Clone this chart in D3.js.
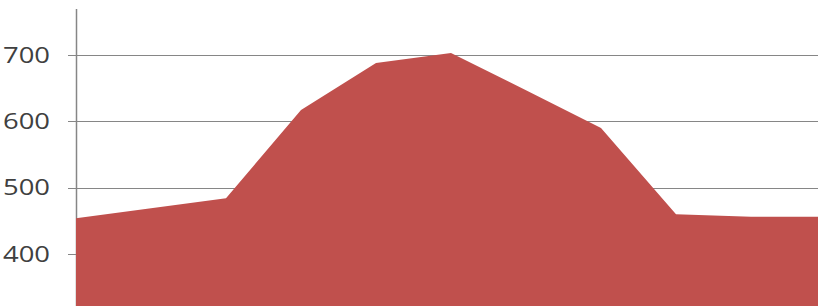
<!DOCTYPE html>
<html lang="en">
<head>
    <meta charset="UTF-8">
    <title>Area chart</title>
    <script src='https://d3js.org/d3.v7.min.js' type='text/javascript'></script>
    <style>
        body { margin: 0; background: #fff; }
    </style>
</head>
<body>
<script>
    var width = 818, height = 306;
    // data
    var categories = d3.range(11);
    var values = [454, 469, 484, 617, 688, 703, 647, 590, 460, 456, 456];
    var tickValues = [400, 500, 600, 700];

    var svg = d3.select('body').append('svg').attr('width', width).attr('height', height);

    var x = d3.scaleLinear().domain([0, 10]).range([76, 826]);
    var y = d3.scaleLinear().domain([400, 700]).range([254, 55]);

    // gridlines and ticks (behind the area)
    svg.append('g').selectAll('line')
        .data(tickValues)
        .join('line')
        .attr('x1', 68).attr('x2', function (d) { return d > 400 ? width : 76; })
        .attr('y1', function (d) { return Math.round(y(d)) + 0.5; })
        .attr('y2', function (d) { return Math.round(y(d)) + 0.5; })
        .attr('stroke', '#868686')
        .attr('stroke-width', 1);

    // y axis line
    svg.append('line')
        .attr('x1', 76.5).attr('x2', 76.5)
        .attr('y1', 9).attr('y2', height)
        .attr('stroke', '#868686')
        .attr('stroke-width', 1.5);

    // filled area down below the visible bottom
    var area = d3.area()
        .x(function (d, i) { return x(categories[i]); })
        .y0(y(300))
        .y1(function (d) { return y(d); });

    svg.append('path')
        .datum(values)
        .attr('fill', '#C0504D')
        .attr('d', area);

    svg.append('g').selectAll('text')
        .data(tickValues)
        .join('text')
        .attr('x', 50)
        .attr('y', function (d) { return y(d); })
        .attr('dy', '0.36em')
        .attr('text-anchor', 'end')
        .attr('textLength', 47)
        .attr('lengthAdjust', 'spacingAndGlyphs')
        .attr('font-family', 'Open Sans, sans-serif')
        .attr('font-size', 21)
        .attr('fill', '#404040')
        .text(function (d) { return d; });
</script>
</body>
</html>
